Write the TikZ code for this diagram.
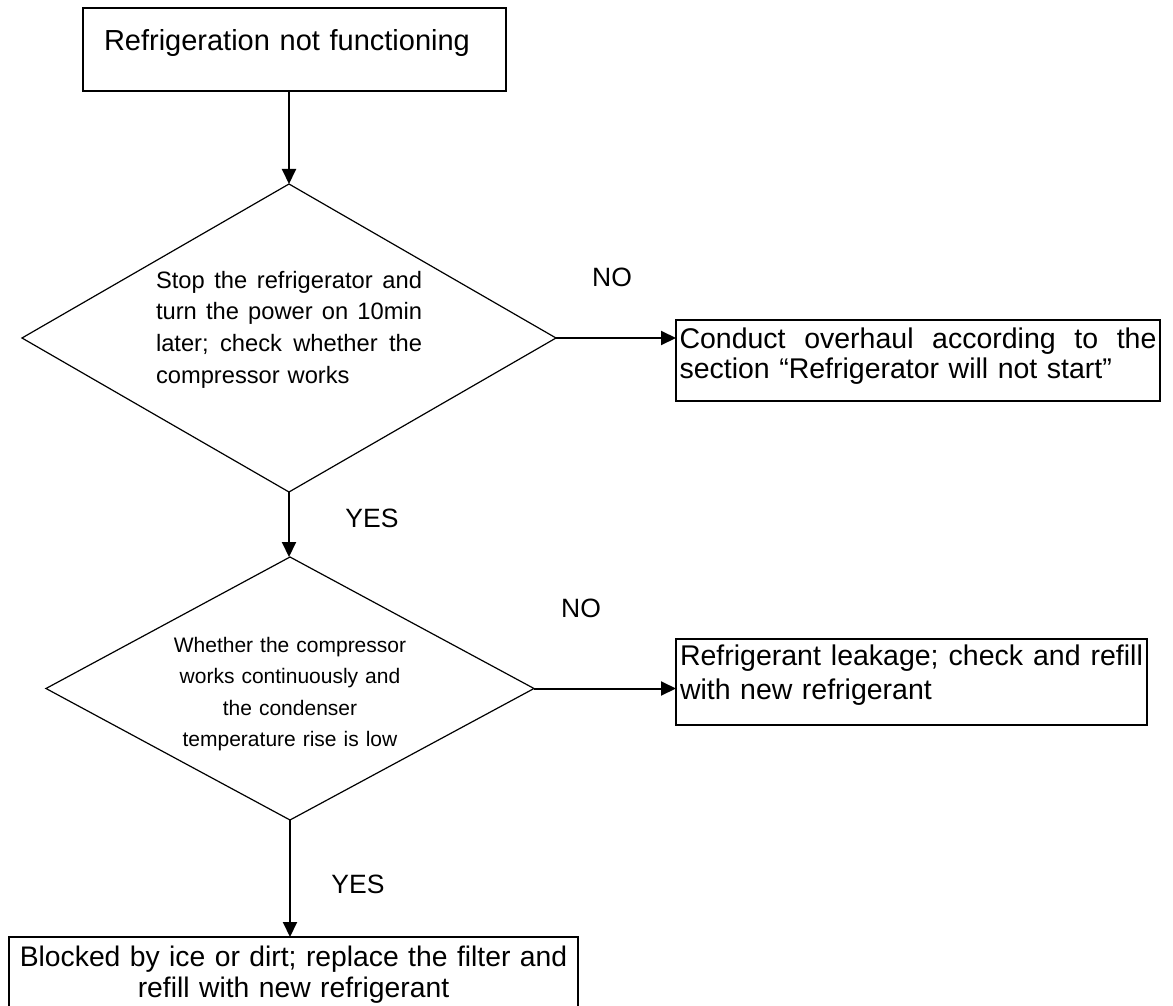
\documentclass[tikz,border=0pt]{standalone}
\usepackage{fontspec}
\setmainfont{Liberation Sans}
\usetikzlibrary{shapes.geometric,arrows.meta}

\providecommand{\colorLine}{black}
\providecommand{\borderthickness}{1.2pt}
\providecommand{\arrowthickness}{2pt}
\providecommand{\boxfont}{\fontsize{29}{31}\selectfont}
\providecommand{\sidefont}{\fontsize{28.5}{30}\selectfont}
\providecommand{\resultfont}{\fontsize{28.3}{31}\selectfont}

\begin{document}
\begin{tikzpicture}[
    x=1pt, y=-1pt,
    % Node styles
    box_base/.style={
        rectangle,
        draw=\colorLine,
        line width=\borderthickness,
        inner ysep=0pt,
        outer sep=0pt
    },
    box_start/.style={box_base, font=\boxfont, align=left},
    box_side/.style={box_base, font=\sidefont, align=left},
    box_result/.style={box_base, font=\resultfont, align=center},
    decision_base/.style={
        diamond,
        draw=\colorLine,
        line width=\borderthickness,
        inner sep=0pt,
        outer sep=0pt
    },
    % Edge styles
    flow_edge/.style={
        line width=\arrowthickness,
        draw=\colorLine,
        -{Triangle[length=15pt,width=14pt]}
    },
    branch_label/.style={
        font=\fontsize{26.5}{26.5}\selectfont,
        inner sep=0pt
    }
]
    \useasboundingbox (0,0) rectangle (1173,1006);
    \clip (0,0) rectangle (1173,1006);

    % ==================== START ====================
    \node[box_start, minimum width=423pt, text width=381pt, inner xsep=21pt,
          text height=43pt, text depth=40pt] (start) at (294.5,49.5)
        {Refrigeration not functioning};

    % ==================== FIRST CHECK: compressor works? ====================
    \node[decision_base, aspect=1.73, minimum width=534pt, minimum height=308pt,
          text width=266pt, align=left, text height=17.5pt, text depth=117.5pt,
          font=\fontsize{23.7}{31.7}\selectfont]
        (check_power) at (289,338)
        {\makebox[266pt][l]{Stop\hfill the\hfill refrigerator\hfill and}\\
         \makebox[266pt][l]{turn\hfill the\hfill power\hfill on\hfill 10min}\\
         \makebox[266pt][l]{later;\hfill check\hfill whether\hfill the}\\
         compressor works};

    \node[box_side, minimum width=484pt, minimum height=81pt,
          text width=477pt, inner xsep=3.5pt, text height=21pt, text depth=46pt]
        (overhaul) at (918,360.5)
        {\makebox[477pt][l]{Conduct\hfill overhaul\hfill according\hfill to\hfill the}\\
         section “Refrigerator will not start”};

    % ==================== SECOND CHECK: runs continuously? ====================
    \node[decision_base, aspect=1.85, minimum width=488pt, minimum height=263pt,
          text width=250pt, align=center, text height=26pt, text depth=99pt,
          font=\fontsize{21}{31.5}\selectfont]
        (check_run) at (290,688.5)
        {Whether the compressor\\ works continuously and\\ the condenser\\
         temperature rise is low};

    \node[box_side, minimum width=471pt, minimum height=86pt,
          text width=463pt, inner xsep=4pt, text height=21pt, text depth=55pt,
          font=\fontsize{28.5}{34}\selectfont] (leakage) at (911.5,682)
        {\makebox[463pt][l]{Refrigerant\hfill leakage;\hfill check\hfill and\hfill refill}\\
         with new refrigerant};

    % ==================== RESULT ====================
    \node[box_result, minimum width=569pt, minimum height=75pt,
          text width=569pt, inner xsep=0pt] (blocked) at (293.5,974.5)
        {Blocked by ice or dirt; replace the filter and\\
         refill with new refrigerant};

    % Arrows between the steps
    \draw[flow_edge] (check_power.north |- start.south) -- (check_power.north);
    \draw[flow_edge] (check_power.east) -- (check_power.east -| overhaul.west);
    \draw[flow_edge] (check_power.south) -- (check_power.south |- check_run.north);
    \draw[flow_edge] (check_run.east) -- (check_run.east -| leakage.west);
    \draw[flow_edge] (check_run.south) -- (check_run.south |- blocked.north);

    % Branch labels
    \node[branch_label] (no_power) at (612,277) {NO};
    \node[branch_label] (yes_power) at (372,518) {YES};
    \node[branch_label] (no_run) at (581,608) {NO};
    \node[branch_label] (yes_run) at (358,884) {YES};

\end{tikzpicture}
\end{document}
